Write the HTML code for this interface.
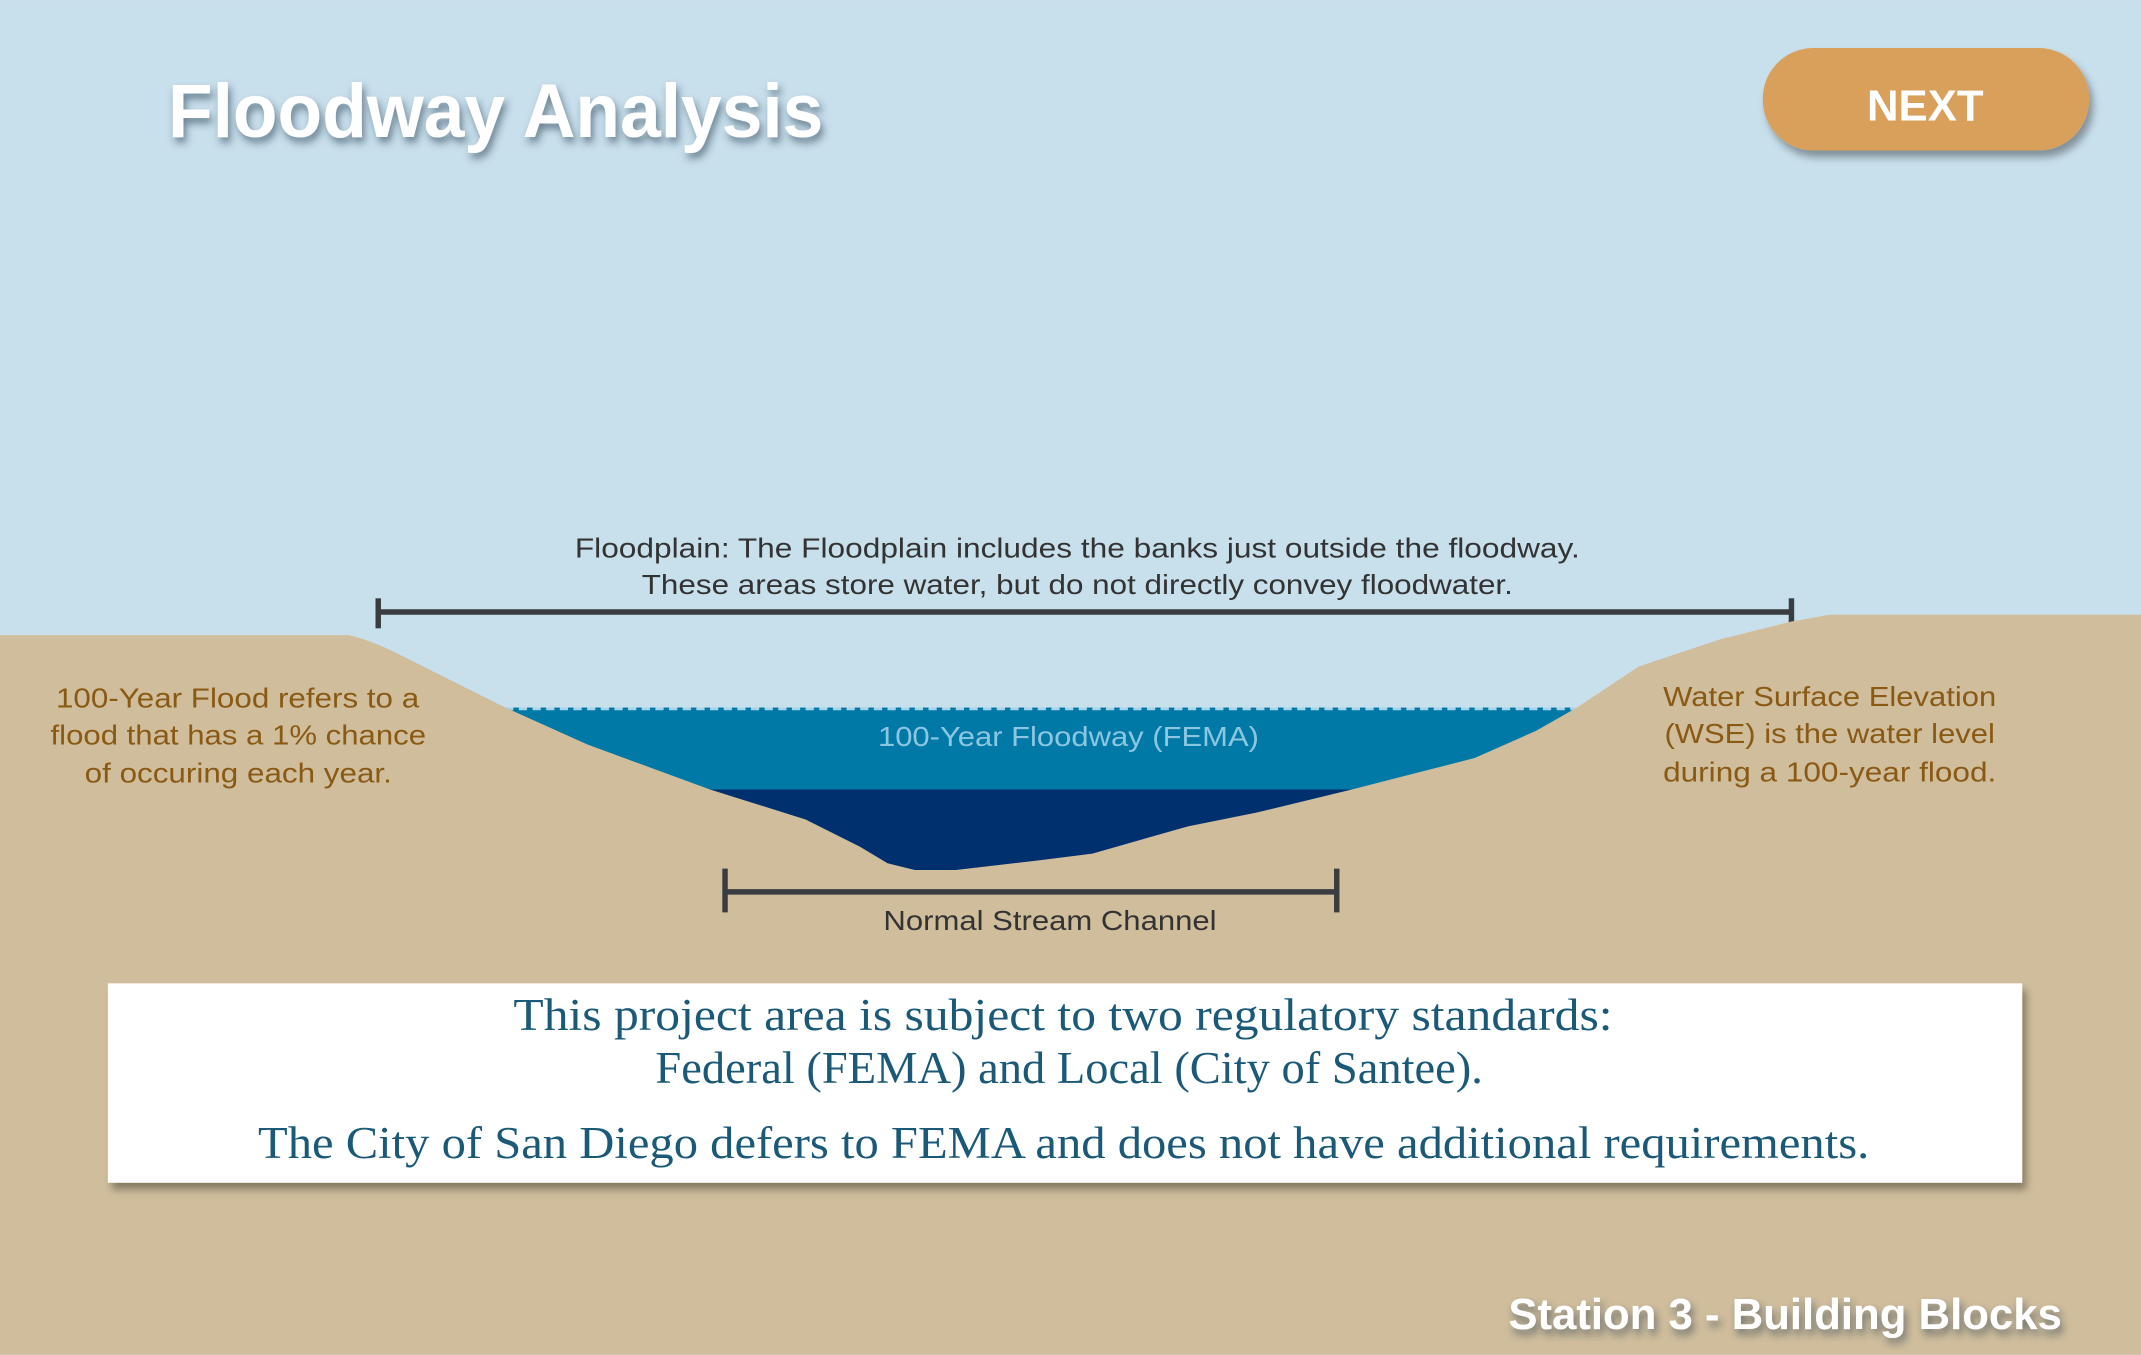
<!DOCTYPE html>
<html><head><meta charset="utf-8"><style>
html,body{margin:0;padding:0;background:#c8dfec;}
svg{display:block;}
</style></head><body>
<svg width="2141" height="1355" viewBox="0 0 1568 992" xmlns="http://www.w3.org/2000/svg">
<defs>
<filter id="sh" x="-20%" y="-20%" width="140%" height="160%"><feDropShadow dx="3" dy="5" stdDeviation="3" flood-color="#000" flood-opacity="0.35"/></filter>
<filter id="ts" x="-10%" y="-30%" width="120%" height="160%"><feDropShadow dx="2" dy="4" stdDeviation="3" flood-color="#23384a" flood-opacity="0.55"/></filter>
</defs>
<rect width="1568" height="992" fill="#c8dfec"/>
<text x="123" y="100" font-family="Liberation Sans, sans-serif" font-weight="bold" font-size="56" fill="#fff" textLength="480" lengthAdjust="spacingAndGlyphs" filter="url(#ts)">Floodway Analysis</text>
<rect x="1291" y="35" width="239" height="75" rx="37" fill="#d9a05b" filter="url(#sh)"/>
<text x="1410" y="88" text-anchor="middle" font-family="Liberation Sans, sans-serif" font-weight="bold" font-size="32" fill="#fff">NEXT</text>
<g font-family="Liberation Sans, sans-serif" font-size="20" fill="#333" lengthAdjust="spacingAndGlyphs">
<text x="421" y="408" textLength="736" lengthAdjust="spacingAndGlyphs">Floodplain: The Floodplain includes the banks just outside the floodway.</text>
<text x="470" y="435" textLength="638" lengthAdjust="spacingAndGlyphs">These areas store water, but do not directly convey floodwater.</text>
</g>
<g stroke="#3a3d40" stroke-width="4"><line x1="277" y1="448" x2="1312" y2="448"/><line x1="277" y1="438" x2="277" y2="460"/><line x1="1312" y1="438" x2="1312" y2="460"/></g>
<rect x="360" y="518" width="810" height="61" fill="#0079a7"/>
<rect x="480" y="578" width="540" height="65" fill="#00306e"/>
<line x1="370" y1="519" x2="1155" y2="519" stroke="#a8d4ea" stroke-width="2" stroke-dasharray="6 4"/>
<path d="M0,465 L255,465 Q270,468 290,478 L370,518 L430,545 L520,578 L590,600 L630,620 L650,632 L670,637 L700,637 L760,630 L800,625 L870,605 L920,595 L990,578 L1080,555 L1125,535 L1155,518 L1200,488 L1260,468 L1312,455 L1340,450 L1568,450 L1568,992 L0,992 Z" fill="#cfbd9c"/>
<text x="643" y="546" textLength="279" lengthAdjust="spacingAndGlyphs" font-family="Liberation Sans, sans-serif" font-size="20" fill="#8cc6e0">100-Year Floodway (FEMA)</text>
<g font-family="Liberation Sans, sans-serif" font-size="20" fill="#8a5a14">
<text x="41" y="518" textLength="266" lengthAdjust="spacingAndGlyphs">100-Year Flood refers to a</text>
<text x="37" y="545" textLength="275" lengthAdjust="spacingAndGlyphs">flood that has a 1% chance</text>
<text x="62" y="573" textLength="225" lengthAdjust="spacingAndGlyphs">of occuring each year.</text>
<text x="1218" y="517" textLength="244" lengthAdjust="spacingAndGlyphs">Water Surface Elevation</text>
<text x="1219" y="544" textLength="242" lengthAdjust="spacingAndGlyphs">(WSE) is the water level</text>
<text x="1218" y="572" textLength="244" lengthAdjust="spacingAndGlyphs">during a 100-year flood.</text>
</g>
<g stroke="#3a3d40" stroke-width="4"><line x1="531" y1="653" x2="979" y2="653"/><line x1="531" y1="636" x2="531" y2="668"/><line x1="979" y1="636" x2="979" y2="668"/></g>
<text x="647" y="681" textLength="244" lengthAdjust="spacingAndGlyphs" font-family="Liberation Sans, sans-serif" font-size="20" fill="#333">Normal Stream Channel</text>
<rect x="79" y="720" width="1402" height="146" fill="#fff" filter="url(#sh)"/>
<g font-family="Liberation Serif, serif" font-size="33" fill="#1a5a78">
<text x="376" y="754" textLength="805" lengthAdjust="spacingAndGlyphs">This project area is subject to two regulatory standards:</text>
<text x="480" y="793" textLength="606" lengthAdjust="spacingAndGlyphs">Federal (FEMA) and Local (City of Santee).</text>
<text x="189" y="848" textLength="1180" lengthAdjust="spacingAndGlyphs">The City of San Diego defers to FEMA and does not have additional requirements.</text>
</g>
<text x="1510" y="973" text-anchor="end" font-family="Liberation Sans, sans-serif" font-weight="bold" font-size="32" fill="#fff" filter="url(#ts)">Station 3 - Building Blocks</text>
</svg>
</body></html>
